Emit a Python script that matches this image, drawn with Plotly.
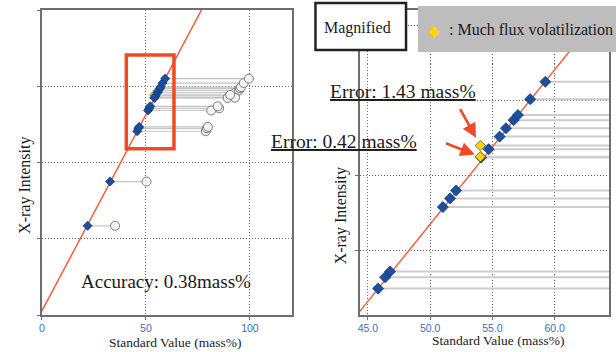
import plotly.graph_objects as go

# ---------------- data ----------------
# two low-concentration samples (left panel only)
low_std = [22.0, 32.8]
low_int = [1.17, 1.75]
low_circ_std = [35.2, 50.3]

# samples in the magnified region (blue diamonds = corrected, circles = uncorrected)
blue_std = [45.82, 46.38, 46.78, 51.02, 51.60, 52.08, 54.09, 54.70, 55.58, 56.09, 56.70, 57.05, 58.03, 59.25]
blue_int = [2.410, 2.448, 2.467, 2.682, 2.711, 2.737, 2.847, 2.875, 2.917, 2.945, 2.972, 2.989, 3.042, 3.100]
blue_circ_std = [78.8, 79.3, 79.8, 81.4, 85.2, 84.5, 89.3, 92.2, 93.0, 94.7, 95.2, 95.7, 97.0, 99.5]

# samples with much flux volatilization (yellow)
yel_std = [54.03, 54.03]
yel_int = [2.850, 2.887]
yel_circ_std = [92.8, 90.5]

# calibration line end points
calib_std = [0, 80]
calib_int = [0.05, 4.17]

# magnified region marked on the left panel
box_std = [40.6, 63.5]
box_int = [2.18, 3.41]

# tick values
left_xticks = [0, 50, 100]
left_xlabels = ["0", "50", "100"]
left_yticks = [0, 1, 2, 3, 4]
right_xticks = [45, 50, 55, 60]
right_xlabels = ["45.0", "50.0", "55.0", "60.0"]
right_yticks = [2.537, 2.787, 3.037, 3.287]

SERIF = "Liberation Serif"
BLUE = "#1c4f9e"
YEL = "#ffd400"
RED = "#f0603e"
ARROW = "#ef4a25"


def connectors(s1, i1, s2):
    xs, ys = [], []
    for a, b, c in zip(s1, i1, s2):
        xs += [a, c, None]
        ys += [b, b, None]
    return xs, ys


fig = go.Figure()

all_std = low_std + blue_std + yel_std
all_int = low_int + blue_int + yel_int
all_circ = low_circ_std + blue_circ_std + yel_circ_std

# ---------------- left panel ----------------
cx, cy = connectors(all_std, all_int, all_circ)
fig.add_trace(go.Scatter(x=cx, y=cy, mode="lines", line=dict(color="#c4c4c4", width=1.2),
                         xaxis="x", yaxis="y", hoverinfo="skip"))
fig.add_trace(go.Scatter(x=calib_std, y=calib_int, mode="lines", line=dict(color=RED, width=1.5),
                         xaxis="x", yaxis="y"))
fig.add_trace(go.Scatter(x=all_circ, y=all_int, mode="markers",
                         marker=dict(symbol="circle", size=9, color="#f4f4f4",
                                     line=dict(color="#7a7a7a", width=1)),
                         xaxis="x", yaxis="y"))
fig.add_trace(go.Scatter(x=yel_std, y=yel_int, mode="markers",
                         marker=dict(symbol="diamond", size=7, color=YEL,
                                     line=dict(color="#555", width=0.8)),
                         xaxis="x", yaxis="y"))
fig.add_trace(go.Scatter(x=low_std + blue_std, y=low_int + blue_int, mode="markers",
                         marker=dict(symbol="diamond", size=7, color=BLUE,
                                     line=dict(color="#123a7a", width=0.8)),
                         xaxis="x", yaxis="y"))

# ---------------- right panel ----------------
rx, ry = connectors(blue_std + yel_std, blue_int + yel_int, blue_circ_std + yel_circ_std)
fig.add_trace(go.Scatter(x=rx, y=ry, mode="lines", line=dict(color="#cdcdcd", width=2),
                         xaxis="x2", yaxis="y2", hoverinfo="skip"))
fig.add_trace(go.Scatter(x=calib_std, y=calib_int, mode="lines", line=dict(color=RED, width=1.5),
                         xaxis="x2", yaxis="y2"))
fig.add_trace(go.Scatter(x=blue_std, y=blue_int, mode="markers",
                         marker=dict(symbol="diamond", size=8.5, color=BLUE,
                                     line=dict(color="#123a7a", width=0.8)),
                         xaxis="x2", yaxis="y2"))
fig.add_trace(go.Scatter(x=yel_std, y=yel_int, mode="markers",
                         marker=dict(symbol="diamond", size=8, color=YEL,
                                     line=dict(color="#555", width=0.8)),
                         xaxis="x2", yaxis="y2"))


def P(x, y):
    return x / 616, 1 - y / 352


axis_common = dict(showline=True, mirror=True, linecolor="#6e6e6e", linewidth=1.5,
                   showgrid=True, gridcolor="#666", gridwidth=1, griddash="1px,2px",
                   zeroline=False, ticks="outside", ticklen=3, tickcolor="#6e6e6e",
                   tickfont=dict(family="Liberation Sans", size=10.5, color="#3a70b0"))

fig.update_layout(
    width=616, height=352, margin=dict(l=0, r=0, t=0, b=0), autosize=False,
    paper_bgcolor="white", plot_bgcolor="white", showlegend=False,
    xaxis=dict(domain=[39 / 616, 290 / 616], range=[0, 120], anchor="y",
               tickvals=left_xticks, ticktext=left_xlabels, **axis_common),
    yaxis=dict(domain=[37 / 352, 342 / 352], range=[0, 4], anchor="x",
               tickvals=left_yticks, showticklabels=False, **axis_common),
    xaxis2=dict(domain=[358.3 / 616, 609.3 / 616], range=[44.33, 64.39], anchor="y2",
                tickvals=right_xticks, ticktext=right_xlabels, **axis_common),
    yaxis2=dict(domain=[37 / 352, 342.5 / 352], range=[2.322, 3.341], anchor="x2",
                tickvals=right_yticks, showticklabels=False, **axis_common),
)

# red box showing the magnified region
fig.add_shape(type="rect", xref="x", yref="y", x0=box_std[0], x1=box_std[1],
              y0=box_int[0], y1=box_int[1], line=dict(color=ARROW, width=3.5),
              fillcolor="rgba(0,0,0,0)", layer="above")

# "Magnified" box and legend box
x0, y1 = P(314, 3)
x1, y0 = P(405, 50)
fig.add_shape(type="rect", xref="paper", yref="paper", x0=x0, x1=x1, y0=y0, y1=y1,
              line=dict(color="#222", width=2.5), fillcolor="white", layer="above")
x0, y1 = P(417, 6)
x1, y0 = P(620, 52)
fig.add_shape(type="rect", xref="paper", yref="paper", x0=x0, x1=x1, y0=y0, y1=y1,
              line=dict(width=0), fillcolor="#bdbdbd", layer="above")


def txt(x, y, s, size, xanchor="left", angle=0, color="#1a1a1a", family=SERIF):
    px, py = P(x, y)
    fig.add_annotation(x=px, y=py, xref="paper", yref="paper", text=s, showarrow=False,
                       xanchor=xanchor, yanchor="middle", textangle=angle,
                       font=dict(family=family, size=size, color=color))


txt(356.5, 28, "Magnified", 16, xanchor="center")
txt(433, 30.5, "◆", 15, xanchor="center", color=YEL, family="DejaVu Sans")
txt(446, 30, ": Much flux volatilization", 16)
txt(76, 281, "Accuracy: 0.38mass%", 19)
txt(327, 91, "<u>Error: 1.43 mass%</u>", 19.5)
txt(267, 141, "<u>Error: 0.42 mass%</u>", 19.5)
txt(22, 185, "X-ray Intensity", 16, xanchor="center", angle=-90)
txt(340, 216, "X-ray Intensity", 16, xanchor="center", angle=-90)
txt(172.5, 342, "Standard Value (mass%)", 13.5, xanchor="center")
txt(497.5, 340, "Standard Value (mass%)", 13.5, xanchor="center")

# red arrows pointing at the yellow samples
fig.add_annotation(x=yel_std[1], y=yel_int[1], xref="x2", yref="y2", ax=-21, ay=-38,
                   axref="pixel", ayref="pixel", showarrow=True, arrowhead=2, arrowsize=1.1,
                   arrowwidth=2.6, arrowcolor=ARROW, standoff=9, text="")
fig.add_annotation(x=yel_std[0], y=yel_int[0], xref="x2", yref="y2", ax=-36, ay=-14,
                   axref="pixel", ayref="pixel", showarrow=True, arrowhead=2, arrowsize=1.1,
                   arrowwidth=2.6, arrowcolor=ARROW, standoff=6, text="")

fig.write_html("out.html", config={"displayModeBar": False},
               post_script="document.body.style.margin='0';")
